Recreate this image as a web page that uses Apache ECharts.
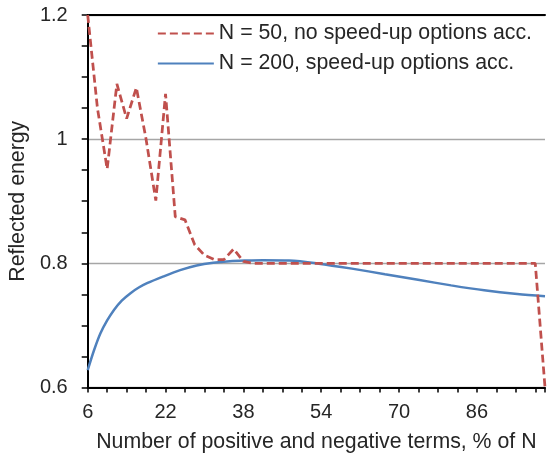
<!DOCTYPE html>
<html>
<head>
<meta charset="utf-8">
<script src="https://cdn.jsdelivr.net/npm/echarts@6/dist/echarts.min.js"></script>
<style>
  html, body { margin: 0; padding: 0; background: #ffffff; }
  #chart { width: 548px; height: 466px; }
</style>
</head>
<body>
<div id="chart"></div>
<script>
// N = 50 run, no speed-up options: one point per 2 % of N
const xN50 = [6, 8, 10, 12, 14, 16, 18, 20, 22, 24, 26, 28, 30, 32, 34, 36, 38, 40,
  42, 44, 46, 48, 50, 52, 54, 56, 58, 60, 62, 64, 66, 68, 70, 72, 74, 76, 78, 80,
  82, 84, 86, 88, 90, 92, 94, 96, 98, 100];
const yN50 = [1.2, 1.05, 0.952, 1.089, 1.033, 1.083, 1.0, 0.901, 1.073, 0.875, 0.870, 0.830,
  0.813, 0.806, 0.806, 0.823, 0.803, 0.800,
  0.8, 0.8, 0.8, 0.8, 0.8, 0.8, 0.8, 0.8, 0.8, 0.8, 0.8, 0.8, 0.8, 0.8, 0.8, 0.8, 0.8, 0.8, 0.8, 0.8,
  0.8, 0.8, 0.8, 0.8, 0.8, 0.8, 0.8, 0.8, 0.8, 0.6];

// N = 200 run, speed-up options accounted for
const xN200 = [6, 7.3, 8.6, 10, 11.4, 13, 14.8, 16.5, 18.2, 21.6, 25, 28.4, 31.8, 35.2,
  38.6, 42, 47.4, 53.5, 60.3, 67.1, 73.9, 80.7, 87.5, 94.3, 100];
const yN200 = [0.628, 0.660, 0.687, 0.708, 0.725, 0.740, 0.752, 0.761, 0.768, 0.779, 0.789,
  0.7965, 0.801, 0.8035, 0.8045, 0.805, 0.8045, 0.7995, 0.7915, 0.7825, 0.7735, 0.7645,
  0.7565, 0.7505, 0.747];

const legendNames = ['N = 50, no speed-up options acc.', 'N = 200, speed-up options acc.'];
const xTitle = 'Number of positive and negative terms, % of N';
const yTitle = 'Reflected energy';

const xMin = 6, xMax = 100, xTickStep = 4, xLabelStep = 16;
const yMin = 0.6, yMax = 1.2, yLabelStep = 0.2;

const zip = (xs, ys) => xs.map((x, i) => [x, ys[i]]);
const FONT = 'Liberation Sans, Arial, sans-serif';
const TEXT = '#262626';
const LABEL_SIZE = 20;
const TITLE_SIZE = 21.3;

const chart = echarts.init(document.getElementById('chart'), null, { renderer: 'canvas' });
chart.setOption({
  animation: false,
  backgroundColor: '#ffffff',
  grid: { left: 87, right: -1, top: 15, bottom: 78.5, containLabel: false },
  legend: {
    orient: 'vertical',
    right: 11,
    top: 18,
    itemWidth: 56,
    itemHeight: 14,
    itemGap: 9,
    itemStyle: { opacity: 0 },
    textStyle: { fontFamily: FONT, fontSize: TITLE_SIZE, color: TEXT },
    data: legendNames
  },
  xAxis: [{
    type: 'value',
    min: xMin, max: xMax, interval: xTickStep,
    name: xTitle,
    nameLocation: 'middle',
    nameGap: 44,
    nameTextStyle: { fontFamily: FONT, fontSize: TITLE_SIZE, color: TEXT },
    axisLine: { show: true, onZero: false, lineStyle: { color: '#000000', width: 2 } },
    axisTick: { show: true, length: 5, lineStyle: { color: '#000000', width: 1.5 } },
    axisLabel: {
      fontFamily: FONT, fontSize: LABEL_SIZE, color: TEXT, margin: 15,
      formatter: v => ((v - xMin) % xLabelStep === 0 && v < xMax) ? String(v) : ''
    },
    splitLine: { show: false }
  }, {
    // frame line along the top of the plot
    type: 'value', position: 'top', min: xMin, max: xMax,
    axisLine: { show: true, onZero: false, lineStyle: { color: '#000000', width: 2 } },
    axisTick: { show: false }, axisLabel: { show: false }, splitLine: { show: false }
  }],
  yAxis: {
    type: 'value',
    min: yMin, max: yMax, interval: yLabelStep,
    name: yTitle,
    nameLocation: 'middle',
    nameGap: 56,
    nameTextStyle: { fontFamily: FONT, fontSize: TITLE_SIZE, color: TEXT },
    axisLine: { show: true, onZero: false, lineStyle: { color: '#000000', width: 2 } },
    axisTick: { show: true, length: 6, lineStyle: { color: '#000000', width: 1.5 } },
    minorTick: { show: true, splitNumber: 4, length: 6, lineStyle: { color: '#000000', width: 1.5 } },
    axisLabel: {
      fontFamily: FONT, fontSize: LABEL_SIZE, color: TEXT, margin: 20,
      formatter: v => String(Math.round(v * 10) / 10)
    },
    splitLine: { show: true, lineStyle: { color: '#a6a6a6', width: 1.3 } }
  },
  series: [{
    name: legendNames[0],
    type: 'line',
    data: zip(xN50, yN50),
    symbol: 'none',
    lineStyle: { color: '#c0504d', width: 2.75, type: [8, 4] },
    itemStyle: { color: '#c0504d' },
    z: 3
  }, {
    name: legendNames[1],
    type: 'line',
    data: zip(xN200, yN200),
    symbol: 'none',
    smooth: 0.3,
    lineStyle: { color: '#4f81bd', width: 2.5 },
    itemStyle: { color: '#4f81bd' },
    z: 2
  }]
});
</script>
</body>
</html>
